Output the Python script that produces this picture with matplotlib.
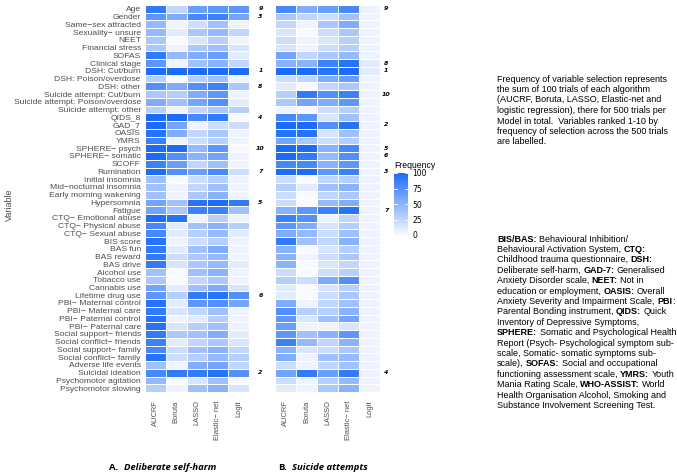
import numpy as np
import matplotlib
matplotlib.use('Agg')
import matplotlib.pyplot as plt
from matplotlib.colors import LinearSegmentedColormap

# variables (rows, top to bottom) and algorithms (columns)
variables = ["Age", "Gender", "Same−sex attracted", "Sexuality− unsure", "NEET",
             "Financial stress", "SOFAS", "Clinical stage", "DSH: Cut/burn",
             "DSH: Poison/overdose", "DSH: other", "Suicide attempt: Cut/burn",
             "Suicide attempt: Poison/overdose", "Suicide attempt: other", "QIDS_8",
             "GAD_7", "OASIS", "YMRS", "SPHERE− psych", "SPHERE− somatic", "SCOFF",
             "Rumination", "Initial insomnia", "Mid−nocturnal insomnia",
             "Early morning wakening", "Hypersomnia", "Fatigue", "CTQ− Emotional abuse",
             "CTQ− Physical abuse", "CTQ− Sexual abuse", "BIS score", "BAS fun",
             "BAS reward", "BAS drive", "Alcohol use", "Tobacco use", "Cannabis use",
             "Lifetime drug use", "PBI− Maternal control", "PBI− Maternal care",
             "PBI− Paternal control", "PBI− Paternal care", "Social support− friends",
             "Social conflict− friends", "Social support− family",
             "Social conflict− family", "Adverse life events", "Suicidal ideation",
             "Psychomotor agitation", "Psychomotor slowing"]
algorithms = ["AUCRF", "Boruta", "LASSO", "Elastic− net", "Logit"]

# selection frequency (out of 100) per algorithm: AUCRF, Boruta, LASSO, EN, Logit
freq_dsh = [
    [90, 25, 65, 70, 70], [70, 55, 80, 85, 60], [45, 5, 20, 40, 5], [45, 10, 35, 45, 25],
    [35, 0, 15, 30, 5], [35, 5, 35, 40, 15], [90, 45, 55, 65, 10], [70, 5, 40, 50, 25],
    [100, 100, 100, 100, 100], [30, 0, 30, 40, 5], [75, 55, 75, 85, 35], [35, 30, 55, 70, 5],
    [55, 40, 60, 75, 10], [30, 5, 25, 35, 30], [100, 100, 80, 90, 0], [100, 60, 5, 20, 20],
    [95, 55, 25, 35, 5], [85, 5, 20, 30, 5], [100, 100, 45, 70, 0], [100, 75, 50, 60, 5],
    [85, 65, 25, 40, 5], [100, 75, 65, 80, 20], [40, 0, 20, 30, 5], [40, 5, 25, 40, 5],
    [40, 5, 35, 50, 5], [60, 40, 95, 100, 90], [60, 35, 85, 85, 40], [100, 95, 5, 30, 5],
    [80, 10, 40, 50, 30], [80, 10, 30, 45, 10], [95, 5, 20, 30, 5], [90, 10, 40, 55, 5],
    [90, 20, 35, 45, 5], [90, 15, 35, 45, 10], [40, 0, 40, 50, 5], [35, 0, 25, 35, 5],
    [60, 10, 40, 55, 15], [70, 30, 90, 95, 75], [95, 10, 70, 75, 60], [90, 15, 25, 40, 5],
    [95, 5, 10, 30, 5], [95, 15, 30, 40, 5], [90, 35, 40, 55, 10], [85, 10, 25, 35, 15],
    [80, 20, 40, 50, 25], [95, 20, 30, 45, 30], [40, 5, 55, 60, 25], [80, 90, 90, 95, 75],
    [45, 0, 15, 40, 0], [30, 5, 40, 50, 15]]
freq_sa = [
    [80, 55, 65, 80, 5], [35, 25, 20, 40, 5], [25, 5, 35, 55, 5], [15, 0, 20, 35, 5],
    [20, 5, 15, 30, 5], [15, 5, 20, 30, 5], [60, 25, 35, 45, 5], [50, 50, 85, 95, 10],
    [100, 100, 95, 100, 10], [20, 25, 55, 65, 5], [10, 0, 25, 35, 5], [30, 90, 75, 85, 5],
    [35, 60, 55, 70, 5], [5, 0, 20, 30, 5], [80, 70, 15, 40, 5], [100, 100, 75, 95, 5],
    [95, 95, 15, 40, 5], [60, 35, 20, 30, 5], [100, 100, 50, 80, 5], [100, 90, 45, 75, 5],
    [80, 80, 50, 70, 5], [100, 100, 70, 85, 5], [20, 0, 25, 30, 5], [30, 10, 40, 50, 5],
    [20, 0, 25, 35, 5], [20, 0, 45, 55, 5], [50, 70, 85, 95, 5], [85, 75, 5, 25, 5],
    [70, 55, 15, 30, 5], [55, 45, 20, 40, 5], [90, 40, 25, 50, 5], [50, 0, 15, 30, 5],
    [50, 5, 20, 35, 5], [50, 0, 15, 25, 5], [20, 0, 20, 30, 5], [30, 20, 55, 75, 5],
    [10, 0, 15, 30, 5], [10, 0, 20, 35, 5], [55, 5, 25, 40, 5], [75, 30, 30, 50, 5],
    [70, 15, 40, 60, 5], [65, 5, 5, 15, 5], [70, 40, 50, 70, 5], [85, 45, 25, 50, 5],
    [50, 15, 20, 35, 5], [55, 5, 40, 45, 5], [20, 5, 25, 40, 5], [60, 90, 65, 90, 5],
    [20, 5, 30, 45, 5], [10, 5, 35, 50, 5]]

# overall rank labels (row index -> rank)
rank_dsh = {0: 9, 1: 3, 8: 1, 10: 8, 14: 4, 18: 10, 21: 7, 25: 5, 37: 6, 47: 2}
rank_sa = {0: 9, 7: 8, 8: 1, 11: 10, 15: 2, 18: 5, 19: 6, 21: 3, 26: 7, 47: 4}

W, H = 677, 476
fig = plt.figure(figsize=(W / 100, H / 100), dpi=100)
cmap = LinearSegmentedColormap.from_list('freq', ['#f8faff', '#1b6cfb'])
grey = '#4d4d4d'

def px(x0, y0, x1, y1):
    return [x0 / W, 1 - y1 / H, (x1 - x0) / W, (y1 - y0) / H]

def heat(rect, data, ranks, ylabels, rank_x):
    ax = fig.add_axes(rect)
    arr = np.array(data, dtype=float)
    mesh = ax.pcolormesh(np.arange(len(algorithms) + 1), np.arange(len(variables) + 1),
                         arr, cmap=cmap, vmin=0, vmax=100,
                         edgecolor='white', linewidth=0.7)
    ax.set_xlim(0, len(algorithms))
    ax.set_ylim(len(variables), 0)
    ax.set_xticks(np.arange(len(algorithms)) + 0.5)
    ax.set_xticklabels(algorithms, rotation=90, fontsize=5.4, color=grey,
                       family='Liberation Sans')
    ax.set_yticks(np.arange(len(variables)) + 0.5)
    if ylabels:
        ax.set_yticklabels(variables, fontsize=6.1, color=grey, family='Liberation Sans')
    else:
        ax.set_yticklabels([])
    ax.tick_params(axis='y', length=0, pad=3)
    ax.tick_params(axis='x', length=0, pad=6)
    for s in ax.spines.values():
        s.set_visible(False)
    for r, k in ranks.items():
        ax.text(rank_x, r + 0.5, str(k), fontsize=4.5, fontweight='bold', style='italic',
                ha='center', va='center', clip_on=False)
    return ax, mesh

axA, mesh = heat(px(145, 5, 249, 392), freq_dsh, rank_dsh, True, 5.55)
axB, _ = heat(px(275, 5, 380, 392), freq_sa, rank_sa, False, 5.3)
fig.text(9 / W, 1 - 205 / H, 'Variable', rotation=90, fontsize=6.5, color=grey,
         family='Liberation Sans', ha='center', va='center')

# colour bar
cax = fig.add_axes(px(394, 173, 408, 235))
cb = fig.colorbar(mesh, cax=cax, ticks=[0, 25, 50, 75, 100])
cb.outline.set_visible(False)
cax.tick_params(length=0, labelsize=5.5, pad=3, labelcolor='black')
for t in [0, 25, 50, 75, 100]:
    cax.plot([0, 0.2], [t, t], color='white', lw=0.6)
    cax.plot([0.8, 1], [t, t], color='white', lw=0.6)
cax.set_xlim(0, 1)
fig.text(394 / W, 1 - 166 / H, 'Frequency', fontsize=6.2, family='Liberation Sans',
         va='center', ha='left')

# panel titles
for cx, tag, name in [(163, 'A.', 'Deliberate self-harm'), (323, 'B.', 'Suicide attempts')]:
    t1 = fig.text(0, 0, tag + ' ', fontsize=6.8, fontweight='bold', family='Open Sans')
    t2 = fig.text(0, 0, name, fontsize=6.8, fontweight='bold', style='italic',
                  family='Open Sans')
    r = fig.canvas.get_renderer()
    w1 = t1.get_window_extent(r).width
    w2 = t2.get_window_extent(r).width
    sp = 3
    x0 = cx - (w1 + sp + w2) / 2
    t1.set_text(tag)
    t1.set_position((x0 / W, 1 - 468 / H))
    t1.set_va('center')
    t2.set_position(((x0 + w1 + sp) / W, 1 - 468 / H))
    t2.set_va('center')

# notes
note1 = ["Frequency of variable selection represents",
         "the sum of 100 trials of each algorithm",
         "(AUCRF, Boruta, LASSO, Elastic-net and",
         "logistic regression), there for 500 trials per",
         "Model in total.  Variables ranked 1-10 by",
         "frequency of selection across the 500 trials",
         "are labelled."]
fs_note = 6.5
for i, line in enumerate(note1):
    fig.text(497 / W, 1 - (79 + i * 10.5) / H, line, fontsize=fs_note,
             family='Liberation Sans', va='center')

note2 = [[("BIS/BAS:", 1), (" Behavioural Inhibition/", 0)],
         [("Behavioural Activation System, ", 0), ("CTQ:", 1)],
         [("Childhood trauma questionnaire, ", 0), ("DSH:", 1)],
         [("Deliberate self-harm, ", 0), ("GAD-7:", 1), (" Generalised", 0)],
         [("Anxiety Disorder scale, ", 0), ("NEET:", 1), (" Not in", 0)],
         [("education or employment, ", 0), ("OASIS:", 1), (" Overall", 0)],
         [("Anxiety Severity and Impairment Scale, ", 0), ("PBI", 1), (":", 0)],
         [("Parental Bonding instrument, ", 0), ("QIDS:", 1), (" Quick", 0)],
         [("Inventory of Depressive Symptoms,", 0)],
         [("SPHERE:", 1), (" Somatic and Psychological Health", 0)],
         [("Report (Psych- Psychological symptom sub-", 0)],
         [("scale, Somatic- somatic symptoms sub-", 0)],
         [("scale), ", 0), ("SOFAS:", 1), (" Social and occupational", 0)],
         [("functioning assessment scale, ", 0), ("YMRS:", 1), (" Youth", 0)],
         [("Mania Rating Scale, ", 0), ("WHO-ASSIST:", 1), (" World", 0)],
         [("Health Organisation Alcohol, Smoking and", 0)],
         [("Substance Involvement Screening Test.", 0)]]

r = fig.canvas.get_renderer()
probe = fig.text(0, 0, 'x x', fontsize=fs_note, family='Liberation Sans')
wa = probe.get_window_extent(r).width
probe.set_text('xx')
space_w = wa - probe.get_window_extent(r).width
probe.remove()
for i, segs in enumerate(note2):
    x = 497.0
    y = 1 - (239 + i * 10.4) / H
    for txt, bold in segs:
        lead = len(txt) - len(txt.lstrip(' '))
        trail = len(txt) - len(txt.rstrip(' '))
        x += lead * space_w
        t = fig.text(x / W, y, txt.strip(' '), fontsize=fs_note, family='Liberation Sans',
                     fontweight='bold' if bold else 'normal', va='center')
        x += t.get_window_extent(r).width + trail * space_w

fig.savefig('out.png', dpi=100)
